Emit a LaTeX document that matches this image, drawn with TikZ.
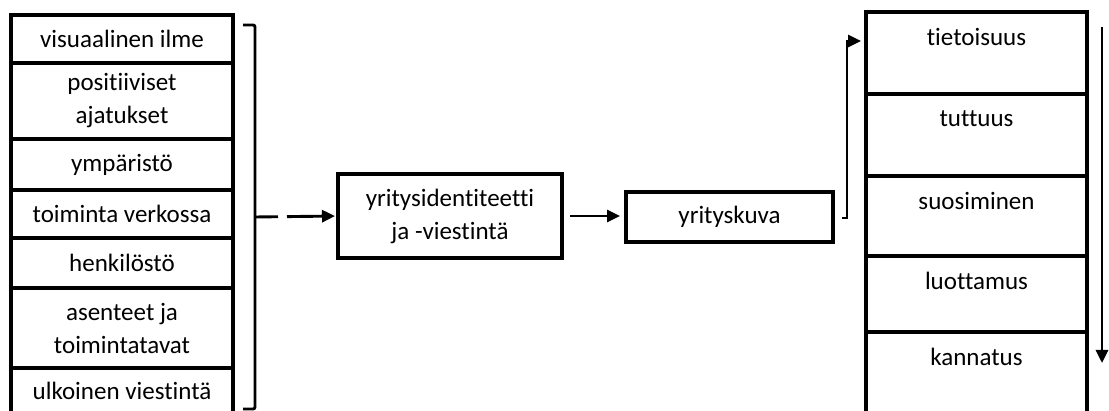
\documentclass[tikz,border=0pt]{standalone}
\usepackage{fontspec}
\setmainfont{Carlito}[Ligatures={NoCommon,NoRequired,NoContextual},RawFeature={-liga;-clig}]
\usetikzlibrary{arrows.meta}
\begin{document}
\begin{tikzpicture}[x=1pt,y=-1pt,
  txt/.style={font=\fontsize{25}{33}\selectfont,align=center,inner sep=0pt},
  frame/.style={draw,line width=3.2pt,inner sep=0pt,outer sep=0pt,txt},
  lcell/.style={frame,minimum width=222pt},
  rcell/.style={frame,minimum width=221pt},
  conn/.style={line width=2.9pt},
  arr/.style={conn,-{Triangle[length=13pt,width=12pt]}}]
\useasboundingbox (0,0) rectangle (1109,411);

% factors column
\node[lcell,minimum height=48pt] (l1) at (122,39) {visuaalinen ilme};
\node[lcell,minimum height=76pt] (l2) at (122,101) {positiiviset\\ajatukset};
\node[lcell,minimum height=51pt] (l3) at (122,164.5) {ympäristö};
\node[lcell,minimum height=48pt] (l4) at (122,214) {toiminta verkossa};
\node[lcell,minimum height=50pt] (l5) at (122,263) {henkilöstö};
\node[lcell,minimum height=80pt] (l6) at (122,328) {asenteet ja\\toimintatavat};
\node[lcell,minimum height=46pt] (l7) at (122,391) {ulkoinen viestintä};

% bracket collecting the factors
\draw[conn,rounded corners=2pt] (243,25) -- (255,25) -- (255,409) -- (243,409);
\coordinate (brk) at (255,217);

% middle chain
\node[frame,minimum width=224pt,minimum height=84pt] (mid) at (450,216) {yritysidentiteetti\\ja -viestintä};
\node[frame,minimum width=207pt,minimum height=50pt] (img) at (729.5,217) {yrityskuva};

\draw[arr,dash pattern=on 23pt off 9pt on 200pt,shorten >=3pt] (brk) -- (mid.west);
\draw[arr,shorten <=8pt,shorten >=6pt] (mid.east) -- (mid.east -| img.west);

% stages column
\node[rcell,minimum height=82pt] (r1) at (976.5,53) {};
\node[rcell,minimum height=82pt] (r2) at (976.5,135) {};
\node[rcell,minimum height=80pt] (r3) at (976.5,216) {};
\node[rcell,minimum height=76pt] (r4) at (976.5,294) {};
\node[rcell,minimum height=82pt] (r5) at (976.5,373) {};
\node[txt] (t1) at ([yshift=-25pt]r1.north) {tietoisuus};
\node[txt] (t2) at ([yshift=-25pt]r2.north) {tuttuus};
\node[txt] (t3) at ([yshift=-25pt]r3.north) {suosiminen};
\node[txt] (t4) at ([yshift=-25pt]r4.north) {luottamus};
\node[txt] (t5) at ([yshift=-25pt]r5.north) {kannatus};

% link from the image box to the first stage
\coordinate (hk) at (842,218);
\draw[arr,shorten >=5pt] (hk) -- ++(5,0) |- ([yshift=12pt]r1.west);

% progression arrow
\coordinate (d1) at (1102,27);
\coordinate (d2) at (1102,363);
\draw[arr] (d1) -- (d2);
\end{tikzpicture}
\end{document}
